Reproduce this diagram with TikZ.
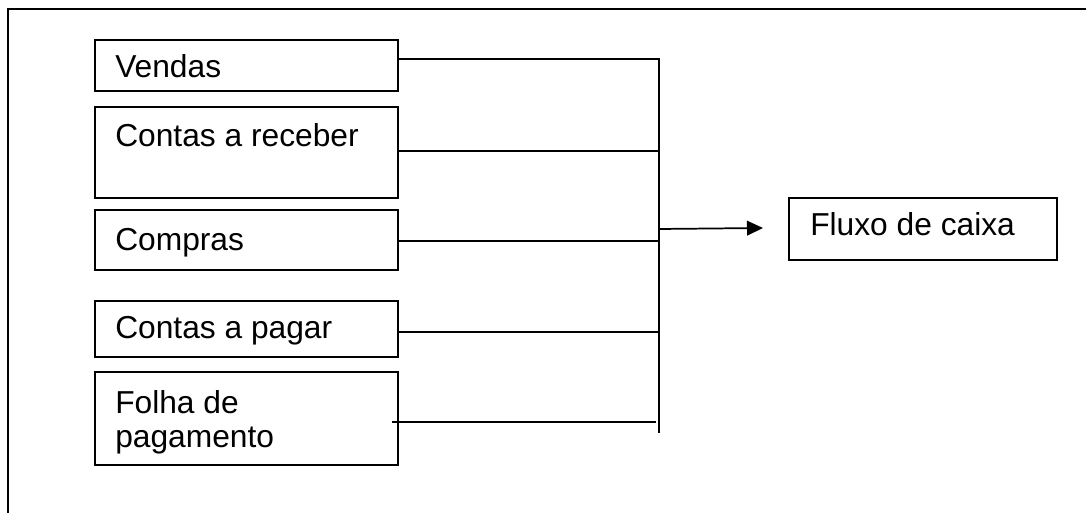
\documentclass[tikz,border=0pt]{standalone}
\usepackage{fontspec}
\setmainfont{Liberation Sans}
\usetikzlibrary{arrows.meta}
\begin{document}
\begin{tikzpicture}[x=0.75pt,y=-0.75pt,
  ln/.style={line width=1.3pt},
  boxn/.style={draw,line width=1.3pt,inner sep=0pt,anchor=north west},
  txt/.style={inner sep=0pt,anchor=base west,font=\fontsize{23.8}{25}\selectfont}]
\useasboundingbox (0,0) rectangle (1086,513);
% outer frame (top and left edges)
\draw[ln] (1086,9) -- (8,9) -- (8,513);
% boxes
\node[boxn,minimum width=303*0.75pt,minimum height=51*0.75pt] (vendas) at (94,39) {};
\node[boxn,minimum width=303*0.75pt,minimum height=91*0.75pt] (receber) at (94,106) {};
\node[boxn,minimum width=303*0.75pt,minimum height=60*0.75pt] (compras) at (94,209) {};
\node[boxn,minimum width=303*0.75pt,minimum height=56*0.75pt] (pagar) at (94,300) {};
\node[boxn,minimum width=303*0.75pt,minimum height=93*0.75pt] (folha) at (94,371) {};
\node[boxn,minimum width=268*0.75pt,minimum height=62*0.75pt] (fluxo) at (788,197) {};
% texts
\node[txt] (tv) at (115,78) {Vendas};
\node[txt] (tr) at (115,147) {Contas a receber};
\node[txt] (tc) at (115,251) {Compras};
\node[txt] (tp) at (115,339) {Contas a pagar};
\node[txt] (tf1) at (115,414) {Folha de};
\node[txt] (tf2) at (115,447) {pagamento};
\node[txt] (tx) at (810,236) {Fluxo de caixa};
% bus
\coordinate (bt) at (659,59);
\coordinate (bb) at (659,433);
\coordinate (y2) at (0,151);
\coordinate (y3) at (0,241);
\coordinate (y4) at (0,332);
\coordinate (fs) at (392,422);
\coordinate (fe) at (656,422);
\coordinate (as) at (659,229);
\coordinate (ae) at (763,228);
\draw[ln] (vendas.east |- bt) -- (bt) -- (bb);
\draw[ln] (receber.east |- y2) -- (bt |- y2);
\draw[ln] (compras.east |- y3) -- (bt |- y3);
\draw[ln] (pagar.east |- y4) -- (bt |- y4);
\draw[ln] (fs) -- (fe);
\draw[ln,-{Triangle[length=12pt,width=11pt]}] (as) -- (ae);
\end{tikzpicture}
\end{document}
